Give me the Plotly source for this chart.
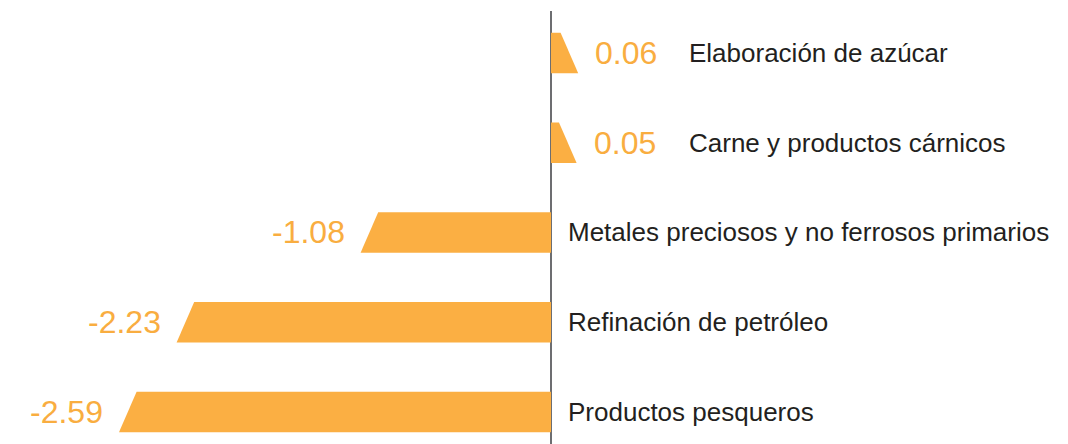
import plotly.graph_objects as go

categories = ["Elaboración de azúcar", "Carne y productos cárnicos",
              "Metales preciosos y no ferrosos primarios",
              "Refinación de petróleo", "Productos pesqueros"]
values = [0.06, 0.05, -1.08, -2.23, -2.59]
value_labels = ["0.06", "0.05", "-1.08", "-2.23", "-2.59"]

BAR_COLOR = "#FBAF43"
VAL_COLOR = "#F9AD40"
TXT_COLOR = "#231F20"
BAR_H = 0.45      # bar thickness in category units
SLANT = 0.11      # slanted tip length in data units
FONT = "Liberation Sans Narrow, Arial Narrow, Liberation Sans, sans-serif"

fig = go.Figure()
annotations = []
for i, (cat, v, lab) in enumerate(zip(categories, values, value_labels)):
    top, bot = i - BAR_H / 2, i + BAR_H / 2
    tip = v + SLANT if v >= 0 else v - SLANT
    xs = [0, v, tip, 0, 0]
    ys = [top, top, bot, bot, top]
    fig.add_trace(go.Scatter(x=xs, y=ys, fill="toself", mode="lines",
                             line=dict(width=0), fillcolor=BAR_COLOR,
                             hoverinfo="skip", showlegend=False))
    if v >= 0:
        annotations.append(dict(x=tip, y=i, text=lab, xanchor="left", xshift=15,
                                showarrow=False,
                                font=dict(size=32, color=VAL_COLOR, family=FONT)))
        annotations.append(dict(x=0, y=i, text=cat, xanchor="left", xshift=136,
                                showarrow=False,
                                font=dict(size=26, color=TXT_COLOR, family=FONT)))
    else:
        annotations.append(dict(x=tip, y=i, text=lab, xanchor="right", xshift=-14,
                                showarrow=False,
                                font=dict(size=32, color=VAL_COLOR, family=FONT)))
        annotations.append(dict(x=0, y=i, text=cat, xanchor="left", xshift=15,
                                showarrow=False,
                                font=dict(size=26, color=TXT_COLOR, family=FONT)))

PX_PER_UNIT = 160
fig.update_layout(
    width=1068, height=444,
    margin=dict(l=0, r=0, t=11, b=0),
    paper_bgcolor="white", plot_bgcolor="white",
    xaxis=dict(range=[-551 / PX_PER_UNIT, (1068 - 551) / PX_PER_UNIT],
               showgrid=False, showticklabels=False, ticks="",
               zeroline=True, zerolinecolor="#6D6E71", zerolinewidth=2),
    yaxis=dict(range=[4.357, -0.468], showgrid=False, showticklabels=False,
               ticks="", zeroline=False),
    annotations=annotations,
)
fig.write_html("out.html", config={"displayModeBar": False},
               post_script="document.body.style.margin='0';document.body.style.overflow='hidden';")
